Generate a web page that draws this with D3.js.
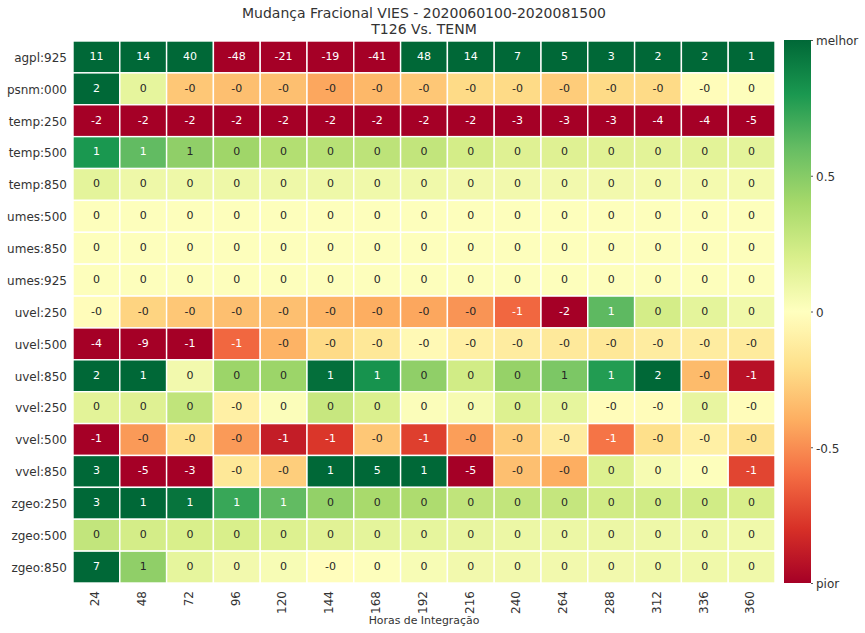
<!DOCTYPE html>
<html>
<head>
<meta charset="utf-8">
<script src="https://cdn.jsdelivr.net/npm/d3@7/dist/d3.min.js"></script>
<style>
  html, body { margin: 0; padding: 0; background: #fff; }
  text { font-family: "DejaVu Sans", sans-serif; }
  .domain { display: none; }
</style>
</head>
<body>
<script>
var titleLines = ["Mudança Fracional VIES - 2020060100-2020081500", "T126 Vs. TENM"];
var xTitle = "Horas de Integração";
var hours = ["24", "48", "72", "96", "120", "144", "168", "192", "216", "240", "264", "288", "312", "336", "360"];
var variables = ["agpl:925", "psnm:000", "temp:250", "temp:500", "temp:850", "umes:500", "umes:850", "umes:925",
  "uvel:250", "uvel:500", "uvel:850", "vvel:250", "vvel:500", "vvel:850", "zgeo:250", "zgeo:500", "zgeo:850"];

// printed numbers in each cell (-0 is kept as a string)
var annotations = [
  ["11", "14", "40", "-48", "-21", "-19", "-41", "48", "14", "7", "5", "3", "2", "2", "1"],
  ["2", "0", "-0", "-0", "-0", "-0", "-0", "-0", "-0", "-0", "-0", "-0", "-0", "-0", "0"],
  ["-2", "-2", "-2", "-2", "-2", "-2", "-2", "-2", "-2", "-3", "-3", "-3", "-4", "-4", "-5"],
  ["1", "1", "1", "0", "0", "0", "0", "0", "0", "0", "0", "0", "0", "0", "0"],
  ["0", "0", "0", "0", "0", "0", "0", "0", "0", "0", "0", "0", "0", "0", "0"],
  ["0", "0", "0", "0", "0", "0", "0", "0", "0", "0", "0", "0", "0", "0", "0"],
  ["0", "0", "0", "0", "0", "0", "0", "0", "0", "0", "0", "0", "0", "0", "0"],
  ["0", "0", "0", "0", "0", "0", "0", "0", "0", "0", "0", "0", "0", "0", "0"],
  ["-0", "-0", "-0", "-0", "-0", "-0", "-0", "-0", "-0", "-1", "-2", "1", "0", "0", "0"],
  ["-4", "-9", "-1", "-1", "-0", "-0", "-0", "-0", "-0", "-0", "-0", "-0", "-0", "-0", "-0"],
  ["2", "1", "0", "0", "0", "1", "1", "0", "0", "0", "1", "1", "2", "-0", "-1"],
  ["0", "0", "0", "-0", "0", "0", "0", "0", "0", "0", "0", "-0", "-0", "0", "-0"],
  ["-1", "-0", "-0", "-0", "-1", "-1", "-0", "-1", "-0", "-0", "-0", "-1", "-0", "-0", "-0"],
  ["3", "-5", "-3", "-0", "-0", "1", "5", "1", "-5", "-0", "-0", "0", "0", "0", "-1"],
  ["3", "1", "1", "1", "1", "0", "0", "0", "0", "0", "0", "0", "0", "0", "0"],
  ["0", "0", "0", "0", "0", "0", "0", "0", "0", "0", "0", "0", "0", "0", "0"],
  ["7", "1", "0", "0", "0", "-0", "0", "0", "0", "0", "0", "0", "0", "0", "0"]
];

// fractional change behind the colours, estimated from the shade of each cell
var fractions = [
  [1, 1, 1, -1, -1, -1, -1, 1, 1, 1, 1, 1, 1, 1, 1],
  [1, 0.13, -0.3, -0.33, -0.33, -0.42, -0.36, -0.3, -0.22, -0.22, -0.28, -0.22, -0.22, -0.02, 0.01],
  [-1, -1, -1, -1, -1, -1, -1, -1, -1, -1, -1, -1, -1, -1, -1],
  [0.8, 0.61, 0.47, 0.42, 0.35, 0.33, 0.31, 0.29, 0.22, 0.17, 0.17, 0.16, 0.15, 0.15, 0.14],
  [0.14, 0.09, 0.09, 0.09, 0.09, 0.09, 0.08, 0.08, 0.07, 0.07, 0.07, 0.07, 0.06, 0.06, 0.06],
  [0.01, 0.01, 0.01, 0.01, 0.01, 0.01, 0.01, 0.01, 0.01, 0.01, 0.01, 0.01, 0.01, 0.01, 0.01],
  [0.01, 0.01, 0.01, 0.01, 0.01, 0.01, 0.01, 0.01, 0.01, 0.01, 0.01, 0.01, 0.01, 0.01, 0.01],
  [0.01, 0.01, 0.01, 0.01, 0.01, 0.01, 0.01, 0.01, 0.01, 0.01, 0.01, 0.01, 0.01, 0.01, 0.01],
  [-0.02, -0.25, -0.3, -0.33, -0.33, -0.37, -0.4, -0.42, -0.48, -0.62, -1, 0.62, 0.22, 0.14, 0.08],
  [-1, -1, -1, -0.62, -0.38, -0.22, -0.15, -0.04, -0.1, -0.12, -0.14, -0.15, -0.12, -0.12, -0.13],
  [1, 1, 0.07, 0.43, 0.43, 0.97, 0.82, 0.47, 0.23, 0.45, 0.53, 0.78, 1, -0.35, -0.93],
  [0.15, 0.17, 0.3, -0.1, 0.02, 0.27, 0.19, 0.02, 0.05, 0.18, 0.13, -0.02, -0.02, 0.12, -0.02],
  [-1, -0.46, -0.2, -0.46, -0.88, -0.78, -0.3, -0.75, -0.45, -0.28, -0.12, -0.58, -0.2, -0.1, -0.18],
  [1, -1, -1, -0.15, -0.27, 1, 1, 1, -1, -0.33, -0.4, 0.18, 0.05, 0.01, -0.73],
  [1, 1, 0.95, 0.72, 0.61, 0.46, 0.39, 0.37, 0.3, 0.29, 0.28, 0.23, 0.23, 0.23, 0.2],
  [0.29, 0.22, 0.2, 0.2, 0.18, 0.16, 0.14, 0.13, 0.12, 0.1, 0.1, 0.1, 0.09, 0.09, 0.08],
  [1, 0.47, 0.13, 0.07, 0.04, -0.01, 0.01, 0.04, 0.07, 0.07, 0.07, 0.07, 0.08, 0.08, 0.08]
];

var barTicks = [1, 0.5, 0, -0.5, -1];
var barLabels = ["melhor", "0.5", "0", "-0.5", "pior"];

// RdYlGn as eleven control colours, blended in a straight line
var palette = d3.schemeRdYlGn[11].slice();
var color = d3.scaleLinear()
  .domain(d3.range(11).map(function (i) { return -1 + i * 0.2; }))
  .range(palette)
  .interpolate(d3.interpolateRgb);

var width = 865, height = 633;
var margin = { top: 41, right: 90, bottom: 50, left: 73 };
var plotW = width - margin.left - margin.right;
var plotH = height - margin.top - margin.bottom;
var textColor = "#333333";

var x = d3.scaleBand().domain(hours).range([0, plotW]);
var y = d3.scaleBand().domain(variables).range([0, plotH]);

var svg = d3.select("body").append("svg")
  .attr("width", width)
  .attr("height", height)
  .style("display", "block");

var g = svg.append("g").attr("transform", "translate(" + margin.left + "," + margin.top + ")");

// white text on dark cells, same rule seaborn uses
function lum(c) {
  var rgb = d3.rgb(c);
  var parts = [rgb.r, rgb.g, rgb.b].map(function (v) {
    v = v / 255;
    return v <= 0.03928 ? v / 12.92 : Math.pow((v + 0.055) / 1.055, 2.4);
  });
  return 0.2126 * parts[0] + 0.7152 * parts[1] + 0.0722 * parts[2];
}

variables.forEach(function (name, r) {
  hours.forEach(function (h, c) {
    var fill = color(fractions[r][c]);
    g.append("rect")
      .attr("x", x(h))
      .attr("y", y(name))
      .attr("width", x.bandwidth())
      .attr("height", y.bandwidth())
      .attr("fill", fill)
      .attr("stroke", "#fff")
      .attr("stroke-width", 1.4);
    g.append("text")
      .attr("x", x(h) + x.bandwidth() / 2)
      .attr("y", y(name) + y.bandwidth() / 2 - 1)
      .attr("dy", "0.35em")
      .attr("text-anchor", "middle")
      .attr("font-size", 11)
      .attr("fill", lum(fill) > 0.408 ? "#262626" : "#ffffff")
      .text(annotations[r][c]);
  });
});

// axes
var yAxis = g.append("g").call(d3.axisLeft(y).tickSize(0).tickPadding(6));
yAxis.selectAll("text")
  .attr("font-size", 12)
  .attr("fill", textColor)
  .attr("y", 1)
  .style("font-family", "DejaVu Sans");

var xAxis = g.append("g")
  .attr("transform", "translate(0," + plotH + ")")
  .call(d3.axisBottom(x).tickSize(0));
xAxis.selectAll("text")
  .attr("font-size", 12)
  .attr("fill", textColor)
  .style("font-family", "DejaVu Sans")
  .attr("text-anchor", "end")
  .attr("transform", "rotate(-90)")
  .attr("x", -8)
  .attr("y", -1.5)
  .attr("dy", "0.35em");

svg.append("text")
  .attr("x", margin.left + plotW / 2)
  .attr("y", 624)
  .attr("text-anchor", "middle")
  .attr("font-size", 10.9)
  .attr("fill", textColor)
  .text(xTitle);

titleLines.forEach(function (line, i) {
  svg.append("text")
    .attr("x", margin.left + plotW / 2)
    .attr("y", 18 + i * 16)
    .attr("text-anchor", "middle")
    .attr("font-size", 14)
    .attr("fill", textColor)
    .text(line);
});

// colour bar
var barX = 784, barW = 27;
var barY = d3.scaleLinear().domain([1, -1]).range([margin.top - 1, margin.top + plotH]);

var grad = svg.append("defs").append("linearGradient")
  .attr("id", "barGrad")
  .attr("x1", 0).attr("y1", 0).attr("x2", 0).attr("y2", 1);
palette.slice().reverse().forEach(function (c, i) {
  grad.append("stop").attr("offset", (i * 10) + "%").attr("stop-color", c);
});

svg.append("rect")
  .attr("x", barX)
  .attr("y", barY(1))
  .attr("width", barW)
  .attr("height", barY(-1) - barY(1))
  .attr("fill", "url(#barGrad)");

var barAxis = svg.append("g")
  .attr("transform", "translate(" + (barX + barW) + ",0)")
  .call(d3.axisRight(barY)
    .tickValues(barTicks)
    .tickSize(2)
    .tickPadding(3)
    .tickFormat(function (d, i) { return barLabels[i]; }));
barAxis.selectAll("line").attr("stroke", "#555555");
barAxis.selectAll("text")
  .attr("font-size", 12)
  .attr("fill", textColor)
  .attr("y", 1)
  .style("font-family", "DejaVu Sans");
</script>
</body>
</html>
